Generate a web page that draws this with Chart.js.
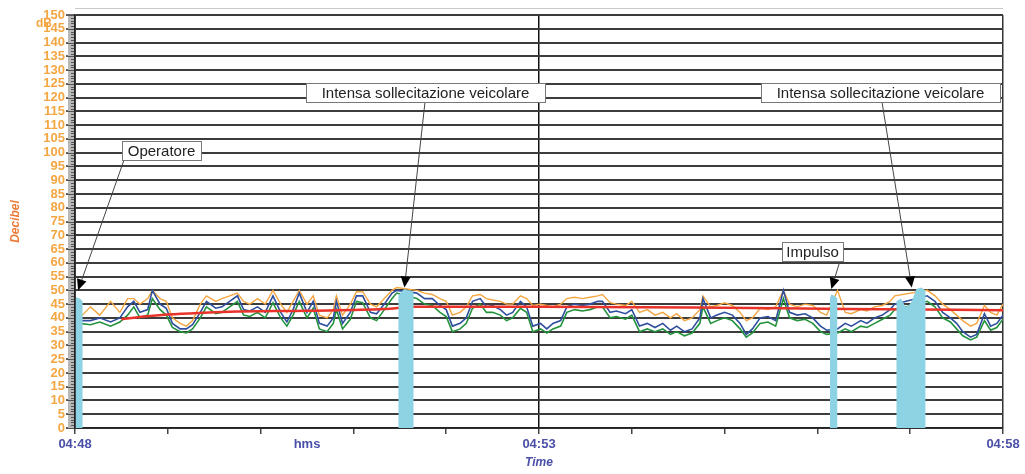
<!DOCTYPE html>
<html>
<head>
<meta charset="utf-8">
<script src="https://cdn.jsdelivr.net/npm/chart.js@4.4.1/dist/chart.umd.min.js"></script>
<style>
  html, body { margin: 0; padding: 0; background: #fff; }
  #box { width: 1025px; height: 474px; }
</style>
</head>
<body>
<div id="box"><canvas id="grafico"></canvas></div>
<script>
// secondi trascorsi dalle 04:48:00
const tempi = [
  3, 10, 16, 23, 29, 34, 38, 42, 47, 50,
  55, 59, 63, 68, 72, 76, 81, 85, 91, 95,
  100, 105, 109, 113, 118, 123, 128, 133, 137, 141,
  145, 150, 154, 158, 163, 167, 169, 173, 178, 182,
  186, 191, 195, 200, 205, 208, 221, 226, 231, 236,
  240, 244, 249, 253, 257, 262, 266, 270, 275, 279,
  283, 288, 292, 296, 301, 305, 309, 314, 318, 323,
  328, 333, 338, 341, 346, 350, 356, 360, 365, 370,
  375, 380, 385, 389, 394, 399, 404, 406, 411, 415,
  420, 425, 430, 434, 438, 443, 448, 453, 458, 462,
  467, 472, 477, 482, 486, 493, 498, 502, 508, 512,
  517, 522, 527, 530, 551, 556, 561, 566, 570, 574,
  579, 583, 588, 592, 596, 600
];
const livelloBlu = [
  39, 39, 40, 38.5, 40, 44, 46, 42, 43, 50,
  45, 43.5, 38, 36, 36, 37.5, 42, 46, 43.5, 44,
  46, 48, 43, 42.5, 44, 42, 48, 42, 38.5, 43,
  49, 42, 46, 38, 37, 40, 46, 38, 42, 48,
  48, 42, 41.5, 45, 49, 50, 49, 47, 47, 44.5,
  43, 37, 38, 40, 46, 47, 44, 44.5, 43, 41,
  42, 46, 44, 37, 38, 36, 38, 39, 44, 45,
  44.5, 45, 46, 46, 42, 42.5, 41.5, 43, 37, 38,
  36.5, 38, 35.5, 37, 35, 36, 40, 47, 40, 41,
  42, 41, 38, 34, 36, 40, 40.5, 39, 50, 42,
  41, 41.5, 40, 37, 35.5, 36, 38, 37, 39, 38,
  40, 41, 43, 45, 48, 46, 42, 40, 38, 35,
  33, 34, 41.5, 37, 38, 41
];
const livelloVerde = [
  38, 37.5, 38.5, 37, 38.5, 41, 44, 40, 41, 47,
  43, 41, 36.5, 35, 34.5, 36, 40, 44, 41.5, 42,
  44, 46, 41, 40.5, 42, 40, 45.5, 40, 37, 41,
  46, 40, 43.5, 36, 35, 38, 43, 36, 39.5, 46,
  45.5, 40, 39, 43, 47, 49, 47, 45, 44.5, 42,
  40.5, 35, 36, 38, 43.5, 45, 42, 42, 41, 39,
  40, 43.5, 42, 35, 36, 34.5, 36, 37, 42, 43,
  42.5, 43, 44, 44, 40, 40.5, 39.5, 41, 35, 36,
  35, 36, 34, 35, 33.5, 34.5, 38, 44, 38, 39,
  40, 39, 36, 33, 34.5, 38, 38.5, 37, 47, 40,
  39, 39.5, 38, 35, 34, 34.5, 36, 35, 37, 36.5,
  38, 39.5, 41, 43, 46, 44, 40, 38.5, 36, 33.5,
  32, 33, 39, 35.5, 36.5, 39.5
];
const livelloArancio = [
  40, 44, 41, 46, 42, 47, 47, 45, 47, 50,
  47, 46, 40, 38, 37, 39, 45, 48, 46, 47,
  48, 49, 46, 45, 47, 45, 50, 45, 42, 46,
  50, 45, 48, 41, 40, 43, 48, 41, 45, 49.5,
  49.5, 45, 44, 47, 50, 51, 50, 49, 48.5, 47,
  46, 41, 42, 44, 48, 48.5, 47, 46.5, 46, 45,
  45, 48, 47, 44.5, 45, 44.5, 44, 45, 47, 47.5,
  47, 47.5, 48, 48.5, 45.5, 45, 44.5, 46, 42, 43,
  41, 42, 40, 41.5, 39, 40, 43, 48, 44, 44.5,
  45.5, 44.5, 42, 39, 40, 43.5, 43, 44, 50, 45,
  44, 45, 44.5, 42, 41, 50, 42, 41.5, 43, 42.5,
  44, 44.5, 46, 48, 50, 48, 45, 43, 41, 39,
  37, 38, 44.5, 42, 41, 45
];
// livello medio (linea rossa)
const mediaT = [30, 45, 60, 80, 100, 150, 200, 220, 260, 300, 400, 500, 600];
const mediaV = [39.5, 40.5, 41.2, 41.8, 42.2, 42.6, 43.2, 44, 44, 44, 43.8, 43.2, 42.8];
// fasce evidenziate (null = interruzione)
const fasceT = [0, 1, 3, 5, 6, 209, 211, 213, 215, 217, 219, 220, 488, 489, 491, 493, 494, 531, 534, 537, 539, 541, 544, 547, 550];
const fasceV = [46.5, 47.5, 47, 46, null, 48, 49.5, 50.5, 50, 50, 49, null, 47, 48.5, 48, 47, null, 46, 47, 44, 44.5, 46, 50.5, 51, 50];

// note: testo, riquadro in pixel, punto indicato in (s, dB)
const note = [
  { testo: 'Operatore', box: [122, 141, 79, 19], da: [124, 160], punta: [2, 50] },
  { testo: 'Intensa sollecitazione veicolare', box: [306, 83, 239, 19], da: [425, 102], punta: [213, 51] },
  { testo: 'Impulso', box: [782, 242, 61, 19], da: [840, 261], punta: [489, 50.5] },
  { testo: 'Intensa sollecitazione veicolare', box: [761, 83, 239, 19], da: [882, 102], punta: [541, 51] }
];

const punti = (t, v) => t.map((x, i) => ({ x: x, y: v[i] }));

function oraDa(sec) {
    const tot = 4 * 3600 + 48 * 60 + sec;
    const h = Math.floor(tot / 3600);
    const m = Math.floor((tot % 3600) / 60);
    return String(h).padStart(2, '0') + ':' + String(m).padStart(2, '0');
}

const arancio = '#f4a642';

const decorazioni = {
    id: 'decorazioni',
    afterDraw(chart) {
        const ctx = chart.ctx;
        const area = chart.chartArea;
        const sx = chart.scales.x;
        const sy = chart.scales.y;
        ctx.save();

        // linea grigia sopra il grafico
        ctx.strokeStyle = '#c8c8c8';
        ctx.lineWidth = 1;
        ctx.beginPath();
        ctx.moveTo(area.left, 8.5);
        ctx.lineTo(area.right, 8.5);
        ctx.stroke();

        // righello grigio a sinistra
        ctx.fillStyle = '#b8b8b8';
        ctx.fillRect(area.left - 7, area.top, 6, area.bottom - area.top);
        ctx.strokeStyle = '#555';
        ctx.lineWidth = 1;
        for (let v = 0; v <= 150; v++) {
            const y = Math.round(sy.getPixelForValue(v)) + 0.5;
            ctx.beginPath();
            ctx.moveTo(area.left - (v % 5 === 0 ? 9 : 4), y);
            ctx.lineTo(area.left - 1, y);
            ctx.stroke();
        }
        ctx.strokeStyle = '#222';
        ctx.lineWidth = 1.5;
        ctx.beginPath();
        ctx.moveTo(area.left, area.top);
        ctx.lineTo(area.left, area.bottom);
        ctx.stroke();

        // unità dB
        ctx.fillStyle = arancio;
        ctx.font = 'bold 12px "Liberation Sans", Arial, sans-serif';
        ctx.textAlign = 'left';
        ctx.textBaseline = 'middle';
        ctx.fillText('dB', 36, sy.getPixelForValue(147));

        // note con freccia
        note.forEach(n => {
            const px = sx.getPixelForValue(n.punta[0]);
            const py = sy.getPixelForValue(n.punta[1]);
            const ang = Math.atan2(py - n.da[1], px - n.da[0]);
            const len = 11, half = 5;
            const bx = px - len * Math.cos(ang);
            const by = py - len * Math.sin(ang);

            ctx.strokeStyle = '#444';
            ctx.lineWidth = 1;
            ctx.beginPath();
            ctx.moveTo(n.da[0], n.da[1]);
            ctx.lineTo(bx, by);
            ctx.stroke();

            ctx.fillStyle = '#000';
            ctx.beginPath();
            ctx.moveTo(px, py);
            ctx.lineTo(bx + half * Math.sin(ang), by - half * Math.cos(ang));
            ctx.lineTo(bx - half * Math.sin(ang), by + half * Math.cos(ang));
            ctx.closePath();
            ctx.fill();

            const [x, y, w, h] = n.box;
            ctx.fillStyle = '#fff';
            ctx.fillRect(x, y, w, h);
            ctx.strokeStyle = '#777';
            ctx.lineWidth = 1;
            ctx.strokeRect(x + 0.5, y + 0.5, w, h);
            ctx.fillStyle = '#222';
            ctx.font = '15px "Liberation Sans", Arial, sans-serif';
            ctx.textAlign = 'center';
            ctx.textBaseline = 'middle';
            ctx.fillText(n.testo, x + w / 2, y + h / 2 + 1, w - 2);
        });

        ctx.restore();
    }
};

new Chart(document.getElementById('grafico'), {
    type: 'line',
    data: {
        datasets: [
            { data: punti(fasceT, fasceV), borderWidth: 0, borderColor: '#8dd3e3', backgroundColor: '#8dd3e3', fill: 'origin', pointRadius: 0, spanGaps: false, order: 0 },
            { data: punti(mediaT, mediaV), borderColor: '#e8332a', borderWidth: 2.5, pointRadius: 0, cubicInterpolationMode: 'monotone', order: 1 },
            { data: punti(tempi, livelloBlu), borderColor: '#2f4f9e', borderWidth: 1.6, pointRadius: 0, order: 2 },
            { data: punti(tempi, livelloVerde), borderColor: '#23923c', borderWidth: 1.6, pointRadius: 0, order: 3 },
            { data: punti(tempi, livelloArancio), borderColor: arancio, borderWidth: 1.4, pointRadius: 0, order: 4 }
        ]
    },
    options: {
        responsive: true,
        maintainAspectRatio: false,
        animation: false,
        layout: { padding: { top: 15, right: 22, left: 0, bottom: 0 } },
        plugins: { legend: { display: false }, tooltip: { enabled: false } },
        scales: {
            x: {
                type: 'linear',
                min: 0,
                max: 600,
                afterFit: s => { s.height = 46; },
                ticks: {
                    stepSize: 30,
                    autoSkip: false,
                    maxRotation: 0,
                    padding: 3,
                    color: '#4a4fa8',
                    font: { family: '"Liberation Sans", Arial, sans-serif', size: 13, weight: 'bold' },
                    callback: v => (v % 300 === 0 ? oraDa(v) : (v === 150 ? 'hms' : ''))
                },
                grid: {
                    color: c => (c.tick && (c.tick.value === 300) ? '#111' : (c.tick && c.tick.value === 600 ? '#333' : 'transparent')),
                    tickColor: c => (c.tick && c.tick.value % 60 === 0 ? '#444' : 'transparent'),
                    lineWidth: 1.5,
                    tickLength: 6
                },
                border: { display: true, color: '#222', width: 1.5 },
                title: {
                    display: true,
                    text: 'Time',
                    color: '#4a4fa8',
                    font: { family: '"Liberation Sans", Arial, sans-serif', size: 12, weight: 'bold', style: 'italic' },
                    padding: { top: 0, bottom: 4 }
                }
            },
            y: {
                min: 0,
                max: 150,
                afterFit: s => { s.width = 75; },
                ticks: {
                    stepSize: 5,
                    autoSkip: false,
                    padding: 1,
                    color: arancio,
                    font: { family: '"Liberation Sans", Arial, sans-serif', size: 13, weight: 'bold' }
                },
                grid: { color: '#3c3c3c', lineWidth: 2, tickColor: '#666', tickLength: 9 },
                border: { display: true, color: '#222', width: 1.5 },
                title: {
                    display: true,
                    text: 'Decibel',
                    color: '#ec7a36',
                    font: { family: '"Liberation Sans", Arial, sans-serif', size: 12, weight: 'bold', style: 'italic' },
                    padding: { top: 8, bottom: 0 }
                }
            }
        }
    },
    plugins: [decorazioni]
});
</script>
</body>
</html>
